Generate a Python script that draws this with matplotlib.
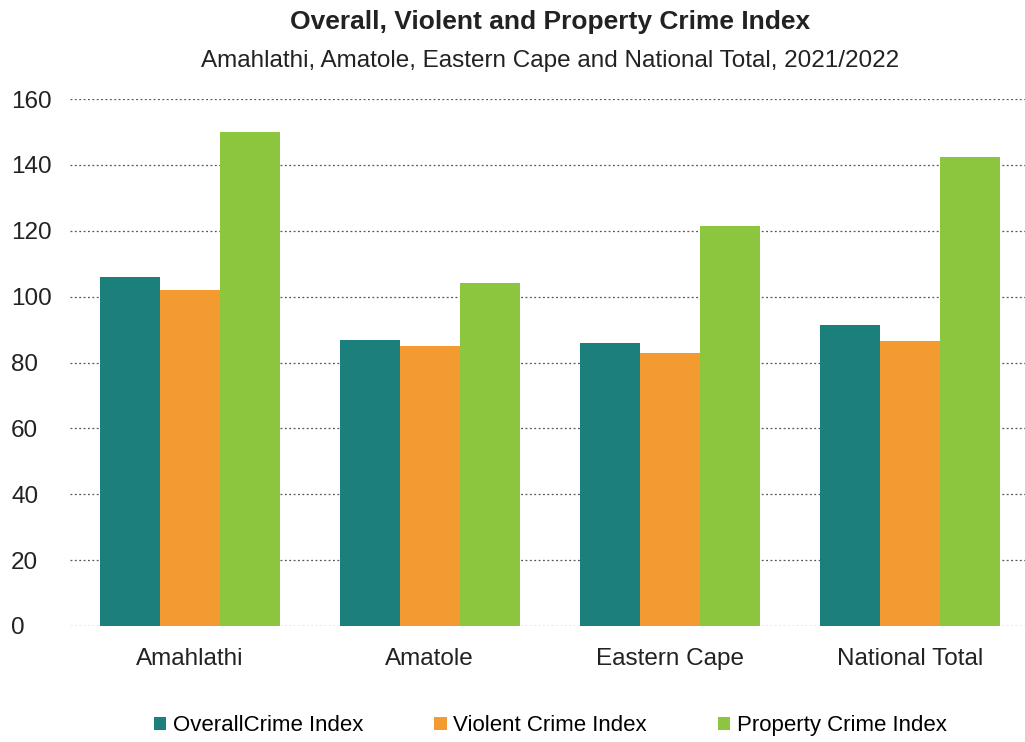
import matplotlib
matplotlib.use("Agg")
import matplotlib.pyplot as plt
import numpy as np

# dados
regioes = ['Amahlathi', 'Amatole', 'Eastern Cape', 'National Total']
series = ['OverallCrime Index', 'Violent Crime Index', 'Property Crime Index']
overall = [106, 86.8, 86, 91.4]
violent = [102, 85, 83, 86.5]
property_ = [150, 104, 121.4, 142.4]
cores = ['#1B7F7C', '#F39A31', '#8CC63E']

plt.rcParams['font.family'] = ['Liberation Sans', 'DejaVu Sans']

fig = plt.figure(figsize=(10.25, 7.42), dpi=100)
ax = fig.add_axes([69.5/1025, 116/742, (1025-69.5)/1025, (626-99)/742])

x = np.arange(len(regioes))
w = 0.25
for k, (vals, nome) in enumerate(zip([overall, violent, property_], series)):
    ax.bar(x + (k-1)*w, vals, w, color=cores[k], label=nome, zorder=3)

ax.set_xlim(-0.5, 3.5 - 5/240)
ax.set_ylim(0, 160)
ax.set_yticks(range(0, 161, 20))
ax.set_xticks(x)
ax.set_xticklabels(regioes)
ax.yaxis.grid(True, linestyle=(0, (1.5, 2)), color='#555555', linewidth=0.9, zorder=0)
for s in ax.spines.values():
    s.set_visible(False)
ax.tick_params(length=0, labelsize=17.5, colors='#222222')
ax.tick_params(axis='x', pad=16)
for lab in ax.get_yticklabels():
    lab.set_horizontalalignment('left')
ax.yaxis.set_tick_params(pad=42)

fig.text(0.537, 0.970, 'Overall, Violent and Property Crime Index', ha='center', va='center',
         fontsize=19, fontweight='bold', color='#222222')
fig.text(0.537, 0.918, 'Amahlathi, Amatole, Eastern Cape and National Total, 2021/2022', ha='center',
         va='center', fontsize=17.5, color='#222222')

leg = fig.legend(loc='center', bbox_to_anchor=(0.537, 0.022), ncol=3, frameon=False, fontsize=16,
                 handlelength=0.55, handleheight=0.55, handletextpad=0.3, columnspacing=3.2)

fig.savefig('out.png', dpi=100)
